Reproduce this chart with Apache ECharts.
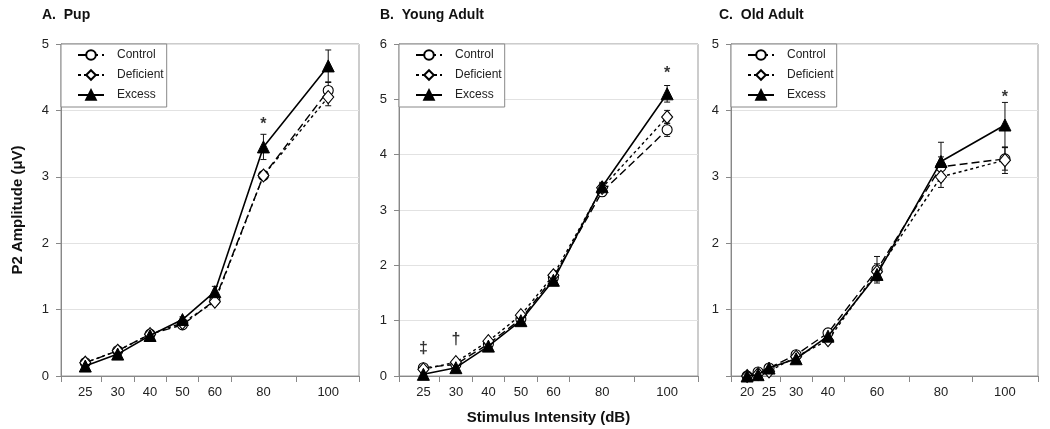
<!DOCTYPE html>
<html>
<head>
<meta charset="utf-8">
<script src="https://cdn.jsdelivr.net/npm/echarts@6/dist/echarts.min.js"></script>
<style>html,body{margin:0;padding:0;background:#fff;}#chart{width:1050px;height:429px;}</style>
</head>
<body>
<div id="chart"></div>
<script>
// ---------- DATA ----------
const seriesNames = ['Control', 'Deficient', 'Excess'];
const panelTitles = ['A.  Pup', 'B.  Young Adult', 'C.  Old Adult'];
const yAxisTitle = 'P2 Amplitude (\u03BCV)';
const xAxisTitle = 'Stimulus Intensity (dB)';

// Panel A: Pup
const catsA = ['25', '30', '40', '50', '60', '80', '100'];
const xPosA = [0, 2, 4, 6, 8, 11, 15];            // category slot on the axis
const ctrlA = [0.20, 0.38, 0.63, 0.77, 1.14, 3.02, 4.30];
const defA  = [0.20, 0.38, 0.63, 0.80, 1.12, 3.02, 4.20];
const excA  = [0.15, 0.33, 0.61, 0.85, 1.27, 3.45, 4.67];
const ctrlErrA = [0.03, 0.03, 0.03, 0.03, 0.05, 0.06, 0.12];
const defErrA  = [0.03, 0.03, 0.03, 0.03, 0.05, 0.06, 0.13];
const excErrA  = [0.03, 0.03, 0.03, 0.04, 0.08, 0.19, 0.24];
const sigCatA = ['80', '100'];
const sigYA   = [3.78, 5.02];
const sigTxtA = ['*', '*'];
const yMaxA = 5;

// Panel B: Young Adult
const catsB = ['25', '30', '40', '50', '60', '80', '100'];
const xPosB = [0, 2, 4, 6, 8, 11, 15];
const ctrlB = [0.15, 0.21, 0.58, 1.03, 1.78, 3.33, 4.45];
const defB  = [0.12, 0.25, 0.63, 1.10, 1.82, 3.40, 4.68];
const excB  = [0.03, 0.15, 0.54, 1.00, 1.73, 3.42, 5.10];
const ctrlErrB = [0.04, 0.04, 0.04, 0.05, 0.06, 0.08, 0.12];
const defErrB  = [0.04, 0.04, 0.04, 0.05, 0.06, 0.08, 0.12];
const excErrB  = [0.03, 0.04, 0.04, 0.05, 0.06, 0.08, 0.15];
const sigCatB = ['25', '30', '100'];
const sigYB   = [0.50, 0.66, 5.47];
const sigTxtB = ['\u2021', '\u2020', '*'];
const yMaxB = 6;

// Panel C: Old Adult
const catsC = ['20', '22.5', '25', '30', '40', '60', '80', '100'];
const xPosC = [0, 0.68, 1.36, 3.04, 5.02, 8.06, 12.03, 16];
const labelCatsC = ['20', '25', '30', '40', '60', '80', '100'];
const ctrlC = [0.00, 0.06, 0.12, 0.32, 0.65, 1.60, 3.15, 3.27];
const defC  = [0.00, 0.03, 0.07, 0.29, 0.54, 1.57, 3.00, 3.25];
const excC  = [0.00, 0.02, 0.12, 0.26, 0.60, 1.53, 3.23, 3.78];
const ctrlErrC = [0.02, 0.02, 0.03, 0.04, 0.06, 0.20, 0.15, 0.17];
const defErrC  = [0.02, 0.02, 0.03, 0.04, 0.05, 0.12, 0.16, 0.20];
const excErrC  = [0.02, 0.02, 0.03, 0.04, 0.05, 0.10, 0.29, 0.34];
const sigCatC = ['100'];
const sigYC   = [4.20];
const sigTxtC = ['*'];
const yMaxC = 5;

// ---------- LAYOUT ----------
const FONT = '"Liberation Sans", Arial, Helvetica, sans-serif';
const panels = [
  { cats: catsA, xPos: xPosA, labelCats: catsA, vals: [ctrlA, defA, excA], errs: [ctrlErrA, defErrA, excErrA],
    sig: [sigCatA, sigYA, sigTxtA], yMax: yMaxA, showZero: true,
    grid: { left: 61, right: 691, top: 44, bottom: 53 }, xMin: -1.5, xMax: 16.9,
    ticks: [-1.5, 1, 3, 5, 7, 9, 13, 16.9], titleLeft: 42 },
  { cats: catsB, xPos: xPosB, labelCats: catsB, vals: [ctrlB, defB, excB], errs: [ctrlErrB, defErrB, excErrB],
    sig: [sigCatB, sigYB, sigTxtB], yMax: yMaxB, showZero: true,
    grid: { left: 399, right: 352, top: 44, bottom: 53 }, xMin: -1.5, xMax: 16.9,
    ticks: [-1.5, 1, 3, 5, 7, 9, 13, 16.9], titleLeft: 380 },
  { cats: catsC, xPos: xPosC, labelCats: labelCatsC, vals: [ctrlC, defC, excC], errs: [ctrlErrC, defErrC, excErrC],
    sig: [sigCatC, sigYC, sigTxtC], yMax: yMaxC, showZero: false,
    grid: { left: 731, right: 12, top: 44, bottom: 53 }, xMin: -1, xMax: 18.05,
    ticks: [-1, 2.05, 4.03, 6, 10.05, 14, 18.05], titleLeft: 719 }
];

const styles = [
  { symbol: 'circle', symbolSize: 10, line: { color: '#000', width: 1.4, type: [8, 4] },
    item: { color: '#fff', borderColor: '#000', borderWidth: 1.1 }, z: 3 },
  { symbol: 'diamond', symbolSize: [11, 13], line: { color: '#000', width: 1.4, type: [3, 3] },
    item: { color: '#fff', borderColor: '#000', borderWidth: 1.1 }, z: 4 },
  { symbol: 'triangle', symbolSize: 12, line: { color: '#000', width: 1.6, type: 'solid' },
    item: { color: '#000', borderColor: '#000', borderWidth: 1 }, z: 5 }
];

function errRender(params, api) {
  const x = api.value(0), y = api.value(1), e = api.value(2);
  const t = api.coord([x, y + e]);
  const b = api.coord([x, y - e]);
  const w = 3;
  const st = { stroke: '#111', lineWidth: 1 };
  return { type: 'group', children: [
    { type: 'line', shape: { x1: t[0], y1: t[1], x2: b[0], y2: b[1] }, style: st },
    { type: 'line', shape: { x1: t[0] - w, y1: t[1], x2: t[0] + w, y2: t[1] }, style: st },
    { type: 'line', shape: { x1: b[0] - w, y1: b[1], x2: b[0] + w, y2: b[1] }, style: st }
  ]};
}

const option = {
  animation: false,
  backgroundColor: '#fff',
  textStyle: { fontFamily: FONT },
  title: [], grid: [], xAxis: [], yAxis: [], legend: [], series: []
};

panels.forEach((p, i) => {
  option.title.push({ text: panelTitles[i], left: p.titleLeft, top: 8, padding: 0,
    textStyle: { fontFamily: FONT, fontSize: 14, fontWeight: 'bold', color: '#111' } });
  option.grid.push(Object.assign({ show: true, borderColor: '#999', borderWidth: 1, backgroundColor: '#fff',
    containLabel: false, outerBoundsMode: 'none' }, p.grid));
  const labelVals = p.labelCats.map(c => p.xPos[p.cats.indexOf(c)]);
  option.xAxis.push({
    type: 'value', gridIndex: i, min: p.xMin, max: p.xMax,
    name: i === 1 ? xAxisTitle : '', nameLocation: 'middle', nameGap: 34,
    nameTextStyle: { fontFamily: FONT, fontSize: 15, fontWeight: 'bold', color: '#111' },
    axisLine: { show: true, onZero: false, lineStyle: { color: '#888', width: 1 } },
    axisTick: { show: true, length: 6, inside: false, customValues: p.ticks, lineStyle: { color: '#888' } },
    axisLabel: { show: true, customValues: labelVals, margin: 10, fontSize: 13, color: '#222', fontFamily: FONT,
      formatter: v => { let k = 0, best = 1e9; p.xPos.forEach((x, j) => { if (Math.abs(x - v) < best) { best = Math.abs(x - v); k = j; } }); return p.cats[k]; } },
    splitLine: { show: false }
  });
  option.yAxis.push({
    type: 'value', gridIndex: i, min: 0, max: p.yMax, interval: 1,
    name: i === 0 ? yAxisTitle : '', nameLocation: 'middle', nameGap: 36,
    nameTextStyle: { fontFamily: FONT, fontSize: 15, fontWeight: 'bold', color: '#111' },
    axisLine: { show: true, onZero: false, lineStyle: { color: '#888', width: 1 } },
    axisTick: { show: true, length: 5, inside: false, lineStyle: { color: '#888' } },
    axisLabel: { margin: 12, fontSize: 13, color: '#222', fontFamily: FONT,
      formatter: v => (v === 0 && !p.showZero) ? '' : String(v) },
    splitLine: { show: true, lineStyle: { color: '#e2e2e2', width: 1 } }
  });
  option.legend.push({
    data: seriesNames, orient: 'vertical', left: p.grid.left, top: 44,
    padding: [5, 3, 6, 16], itemGap: 8, itemWidth: 26, itemHeight: 12,
    backgroundColor: '#fff', borderColor: '#888', borderWidth: 1, borderRadius: 0,
    selectedMode: false,
    textStyle: { fontFamily: FONT, fontSize: 12, color: '#222', padding: [0, 0, 0, 8] }
  });
  // error bars
  p.vals.forEach((vals, s) => {
    option.series.push({
      type: 'custom', name: seriesNames[s] + ' SE', xAxisIndex: i, yAxisIndex: i, z: 2,
      renderItem: errRender, encode: { x: 0, y: 1 }, silent: true,
      data: vals.map((v, k) => [p.xPos[k], v, p.errs[s][k]])
    });
  });
  // lines
  p.vals.forEach((vals, s) => {
    const st = styles[s];
    option.series.push({
      type: 'line', name: seriesNames[s], xAxisIndex: i, yAxisIndex: i, z: st.z,
      symbol: st.symbol, symbolSize: st.symbolSize, showAllSymbol: true,
      lineStyle: st.line, itemStyle: st.item, silent: true,
      data: vals.map((v, k) => [p.xPos[k], v])
    });
  });
  // significance markers
  const [sc, sy, stxt] = p.sig;
  option.series.push({
    type: 'scatter', name: 'sig', xAxisIndex: i, yAxisIndex: i, z: 6, silent: true,
    symbolSize: 1, itemStyle: { color: 'rgba(0,0,0,0)' },
    label: { show: true, position: 'inside', fontFamily: FONT, fontSize: 16, fontWeight: 'bold', color: '#000' },
    data: sc.map((c, k) => ({ value: [p.xPos[p.cats.indexOf(c)], sy[k]], label: { formatter: stxt[k] } }))
  });
});

const chart = echarts.init(document.getElementById('chart'), null, { renderer: 'canvas' });
chart.setOption(option);
</script>
</body>
</html>
